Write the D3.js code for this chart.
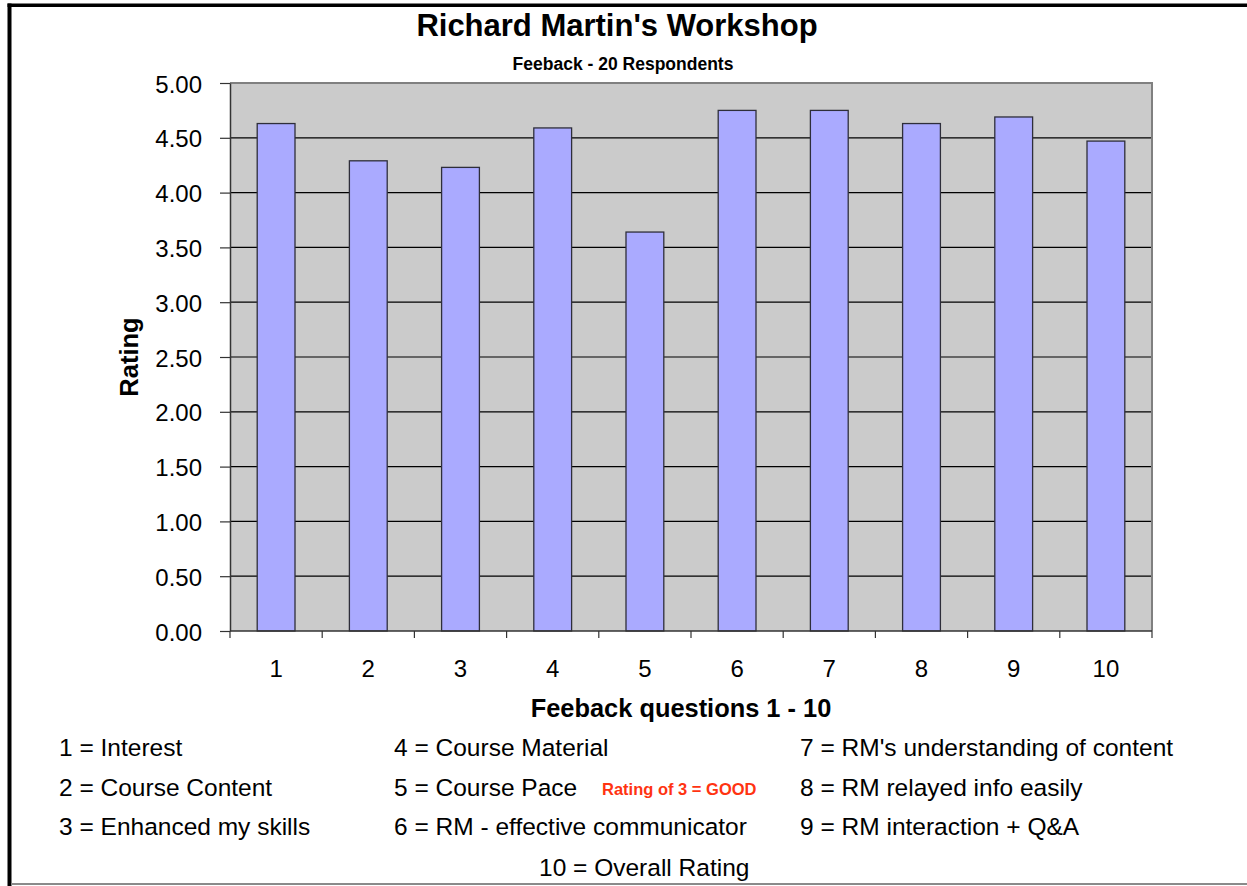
<!DOCTYPE html>
<html>
<head>
<meta charset="utf-8">
<style>
  body { margin: 0; background: #fff; }
  text { font-family: "Liberation Sans", Arial, sans-serif; }
</style>
</head>
<body>
<div id="chart"></div>
<script src="https://d3js.org/d3.v7.min.js"></script>
<script>
// data
const questions = ["1", "2", "3", "4", "5", "6", "7", "8", "9", "10"];
const ratings = [4.63, 4.29, 4.23, 4.59, 3.64, 4.75, 4.75, 4.63, 4.69, 4.47];
const yTicks = [0, 0.5, 1, 1.5, 2, 2.5, 3, 3.5, 4, 4.5, 5];
const legendCol1 = ["1 = Interest", "2 = Course Content", "3 = Enhanced my skills"];
const legendCol2 = ["4 = Course Material", "5 = Course Pace", "6 = RM - effective communicator"];
const legendCol3 = ["7 = RM's understanding of content", "8 = RM relayed info easily", "9 = RM interaction + Q&A"];
const legendLast = "10 = Overall Rating";
const note = "Rating of 3 = GOOD";

const width = 1247, height = 886;
const plot = { left: 230, right: 1152, top: 83, bottom: 631 };

const svg = d3.select("#chart").append("svg")
    .attr("width", width)
    .attr("height", height);

svg.append("rect").attr("width", width).attr("height", height).attr("fill", "#fff");

// chart frame (left + top black, bottom thin gray)
svg.append("line").attr("x1", 9.5).attr("x2", 9.5).attr("y1", 3.5).attr("y2", 886)
    .attr("stroke", "#000").attr("stroke-width", 4);
svg.append("line").attr("x1", 7.5).attr("x2", width).attr("y1", 5.3).attr("y2", 5.3)
    .attr("stroke", "#000").attr("stroke-width", 3.5);
svg.append("line").attr("x1", 11).attr("x2", width).attr("y1", 884).attr("y2", 884)
    .attr("stroke", "#8a8a8a").attr("stroke-width", 2);

const x = d3.scaleBand()
    .domain(questions)
    .range([plot.left, plot.right])
    .paddingInner(0.59)
    .paddingOuter(0.295);

const xOuter = d3.scaleBand()
    .domain(questions)
    .range([plot.left, plot.right]);

const y = d3.scaleLinear()
    .domain([0, 5])
    .range([plot.bottom, plot.top]);

// plot background
svg.append("rect")
    .attr("x", plot.left).attr("y", plot.top)
    .attr("width", plot.right - plot.left).attr("height", plot.bottom - plot.top)
    .attr("fill", "#cbcbcb");

// gridlines
svg.append("g")
    .selectAll("line")
    .data(yTicks.filter(d => d > 0 && d < 5))
    .join("line")
    .attr("x1", plot.left).attr("x2", plot.right)
    .attr("y1", d => y(d)).attr("y2", d => y(d))
    .attr("stroke", "#000").attr("stroke-width", 1.2);

// plot border top/right
svg.append("path")
    .attr("d", `M${plot.left},${plot.top}H${plot.right}V${plot.bottom}`)
    .attr("fill", "none").attr("stroke", "#808080").attr("stroke-width", 2);

// bars
svg.append("g")
    .selectAll("rect")
    .data(ratings)
    .join("rect")
    .attr("x", (d, i) => x(questions[i]))
    .attr("y", d => y(d))
    .attr("width", x.bandwidth())
    .attr("height", d => y(0) - y(d))
    .attr("fill", "#aaaaff")
    .attr("stroke", "#2e2e3a")
    .attr("stroke-width", 1.3);

// y axis
const yAxis = svg.append("g")
    .attr("transform", `translate(${plot.left},0)`)
    .call(d3.axisLeft(y).tickValues(yTicks).tickFormat(d3.format(".2f"))
        .tickSize(10).tickPadding(18).tickSizeOuter(0));
yAxis.select(".domain").attr("stroke", "#333").attr("stroke-width", 1.5);
yAxis.selectAll(".tick line").attr("stroke", "#333").attr("stroke-width", 1.2);
yAxis.selectAll(".tick text")
    .attr("font-size", 24)
    .attr("font-family", "'Liberation Sans', Arial, sans-serif")
    .attr("fill", "#000")
    .attr("dy", "0.38em");

// x axis: ticks at category boundaries, labels at centers
const xAxis = svg.append("g")
    .attr("transform", `translate(0,${plot.bottom})`);
xAxis.append("line")
    .attr("x1", plot.left).attr("x2", plot.right)
    .attr("stroke", "#333").attr("stroke-width", 1.5);
xAxis.selectAll(".xtick")
    .data(questions.map(q => xOuter(q)).concat([plot.right]))
    .join("line")
    .attr("class", "xtick")
    .attr("x1", d => d).attr("x2", d => d)
    .attr("y1", 0).attr("y2", 7)
    .attr("stroke", "#333").attr("stroke-width", 1.2);
xAxis.selectAll(".xlabel")
    .data(questions)
    .join("text")
    .attr("class", "xlabel")
    .attr("x", d => xOuter(d) + xOuter.bandwidth() / 2)
    .attr("y", 46)
    .attr("text-anchor", "middle")
    .attr("font-size", 24)
    .text(d => d);

// titles
svg.append("text")
    .attr("x", 617).attr("y", 36)
    .attr("text-anchor", "middle")
    .attr("font-size", 31).attr("font-weight", "bold")
    .text("Richard Martin's Workshop");

svg.append("text")
    .attr("x", 623).attr("y", 70)
    .attr("text-anchor", "middle")
    .attr("font-size", 17.5).attr("font-weight", "bold")
    .text("Feeback - 20 Respondents");

svg.append("text")
    .attr("transform", "translate(138,357) rotate(-90)")
    .attr("text-anchor", "middle")
    .attr("font-size", 25.5).attr("font-weight", "bold")
    .text("Rating");

svg.append("text")
    .attr("x", 681).attr("y", 717)
    .attr("text-anchor", "middle")
    .attr("font-size", 25.4).attr("font-weight", "bold")
    .text("Feeback questions 1 - 10");

// legend text
const colX = [59, 394, 800];
const rowY = [756, 796, 835];
[legendCol1, legendCol2, legendCol3].forEach((col, c) => {
    svg.append("g")
        .selectAll("text")
        .data(col)
        .join("text")
        .attr("x", colX[c])
        .attr("y", (d, i) => rowY[i])
        .attr("font-size", 24.5)
        .text(d => d);
});

svg.append("text")
    .attr("x", 539).attr("y", 876)
    .attr("font-size", 24.5)
    .text(legendLast);

svg.append("text")
    .attr("x", 602).attr("y", 795)
    .attr("font-size", 16.5).attr("font-weight", "bold")
    .attr("fill", "#ff3311")
    .text(note);
</script>
</body>
</html>
